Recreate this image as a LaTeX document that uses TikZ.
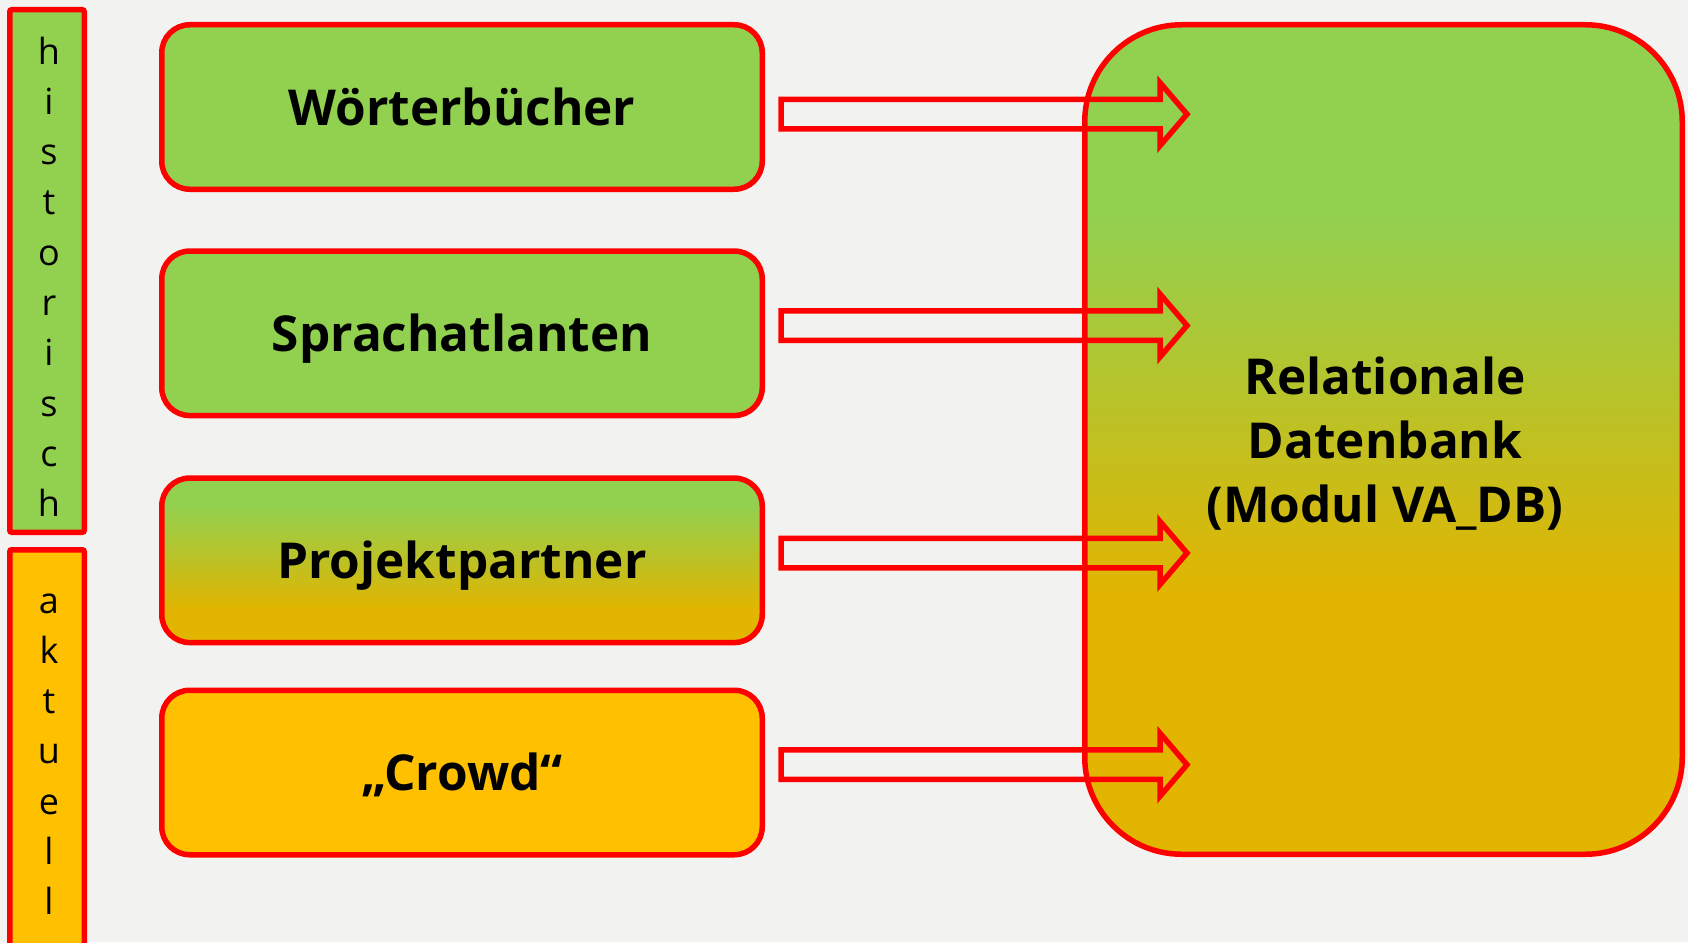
\documentclass[tikz,border=0pt]{standalone}
\usepackage{fontspec}
\setmainfont{Open Sans}
\usetikzlibrary{calc}
\definecolor{bg}{RGB}{242,242,240}
\definecolor{vgreen}{RGB}{146,208,80}
\definecolor{vgold}{RGB}{226,181,0}
\definecolor{vorange}{RGB}{255,192,0}
\definecolor{vred}{RGB}{255,0,0}
\pgfdeclareverticalshading{dbshade}{100bp}{color(0bp)=(vgold); color(25bp)=(vgold); color(40.5bp)=(vgold); color(63.5bp)=(vgreen); color(75bp)=(vgreen); color(100bp)=(vgreen)}
\pgfdeclareverticalshading{ppshade}{100bp}{color(0bp)=(vgold); color(25bp)=(vgold); color(35bp)=(vgold); color(67bp)=(vgreen); color(75bp)=(vgreen); color(100bp)=(vgreen)}
\newcommand\blockarrow[2]{%
  \draw[arrowline] ($(#1)+(0,-14.75)$) -- ($(#2)+(-27,-14.75)$) -- ($(#2)+(-27,-31.5)$) -- (#2)
    -- ($(#2)+(-27,31.5)$) -- ($(#2)+(-27,14.75)$) -- ($(#1)+(0,14.75)$) -- cycle;}
\begin{document}
\begin{tikzpicture}[x=1pt,y=-1pt,
  sidebar/.style={draw=vred, line width=5.5pt, rounded corners=2pt},
  sideletter/.style={anchor=base, inner sep=0pt, font=\fontsize{36}{36}\selectfont},
  srcbox/.style={draw=vred, line width=5.5pt, rounded corners=28pt, minimum width=600.5pt,
    minimum height=164.5pt, inner sep=0pt, text height=36pt, text depth=0pt,
    font=\bfseries\fontsize{49.5}{49.5}\selectfont},
  dbbox/.style={draw=vred, line width=5.5pt, rounded corners=97pt, minimum width=597.5pt,
    minimum height=829.5pt, inner sep=0pt, shading=dbshade},
  dbtext/.style={anchor=base, inner sep=0pt, font=\bfseries\fontsize{49.5}{49.5}\selectfont},
  arrowline/.style={draw=vred, line width=5.5pt, miter limit=10}]
\useasboundingbox (0,0) rectangle (1688,942);
\fill[bg] (0,0) rectangle (1688,942);
\clip (0,0) rectangle (1688,942);
% side bars
\draw[sidebar, fill=vgreen] (9.75,9.75) rectangle (84.25,532.25);
\draw[sidebar, fill=vorange] (9.75,549.75) rectangle (84.25,980);
\foreach \l [count=\i] in {h,i,s,t,o,r,i,s,c,h}
  \node[sideletter] (hl\i) at (49,{64+50.3*(\i-1)}) {\l};
\foreach \l [count=\i] in {a,k,t,u,e,l,l}
  \node[sideletter] (al\i) at (49,{613+50.3*(\i-1)}) {\l};
% source boxes
\node[srcbox, fill=vgreen] (wb) at (462,107) {Wörterbücher};
\node[srcbox, fill=vgreen] (sa) at (462,333.3) {Sprachatlanten};
\node[srcbox, shading=ppshade] (pp) at (462,560.3) {Projektpartner};
\node[srcbox, fill=vorange] (cr) at (462,772.5) {„Crowd“};
% database
\node[dbbox] (db) at (1383.5,439.5) {};
\node[dbtext] (dbl1) at (1385,394) {Relationale};
\node[dbtext] (dbl2) at (1385,458) {Datenbank};
\node[dbtext] (dbl3) at (1385,522) {(Modul VA\_DB)};
% arrows
\coordinate (s1) at (781,114.2);   \coordinate (e1) at (1187,114.2);
\coordinate (s2) at (781,325.5);   \coordinate (e2) at (1187,325.5);
\coordinate (s3) at (781,553);     \coordinate (e3) at (1187,553);
\coordinate (s4) at (781,764.7);   \coordinate (e4) at (1187,764.7);
\blockarrow{s1}{e1}
\blockarrow{s2}{e2}
\blockarrow{s3}{e3}
\blockarrow{s4}{e4}
\end{tikzpicture}
\end{document}
